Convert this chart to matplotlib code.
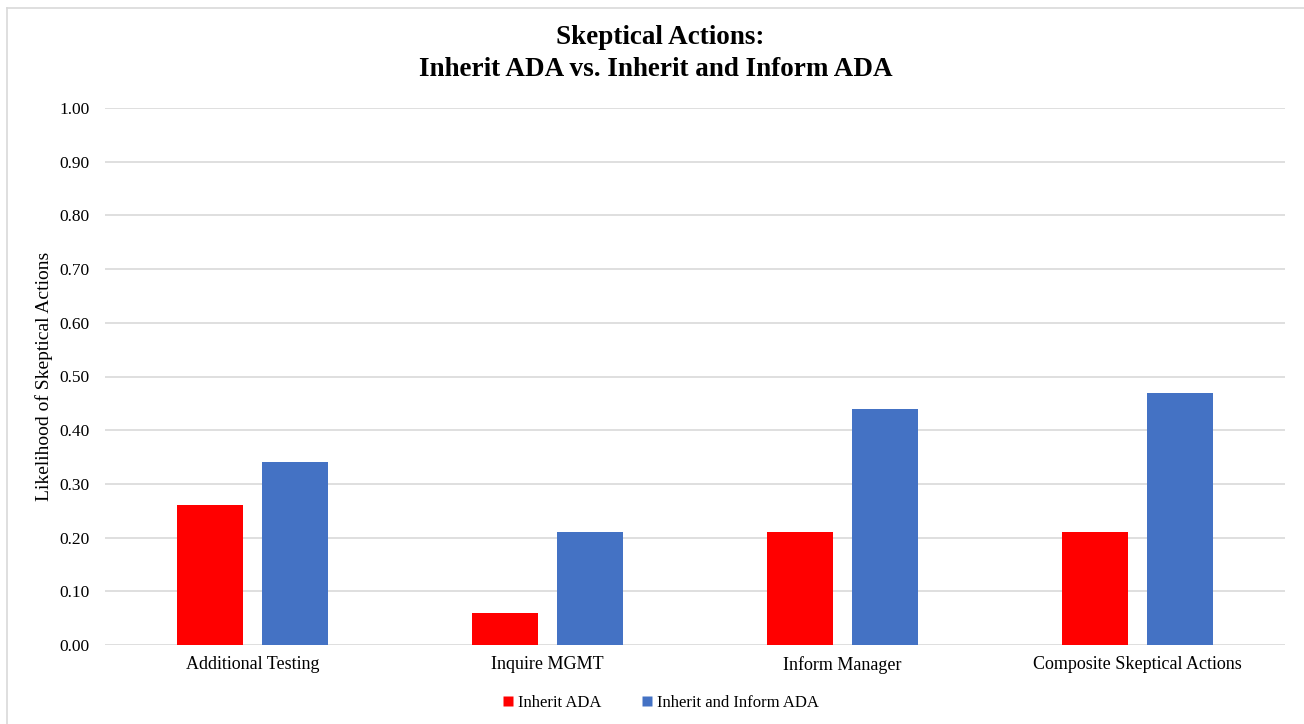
import matplotlib
matplotlib.use("Agg")
import matplotlib.pyplot as plt
import numpy as np
from matplotlib.lines import Line2D

categories = ["Additional Testing", "Inquire MGMT", "Inform Manager", "Composite Skeptical Actions"]
inherit_ada = [0.26, 0.06, 0.21, 0.21]
inherit_inform_ada = [0.34, 0.21, 0.44, 0.47]
series_names = ["Inherit ADA", "Inherit and Inform ADA"]
yticks = [0.0, 0.1, 0.2, 0.3, 0.4, 0.5, 0.6, 0.7, 0.8, 0.9, 1.0]

plt.rcParams['font.family'] = ['Liberation Serif', 'DejaVu Serif']

fig = plt.figure(figsize=(13.04, 7.24), dpi=100)
ax = fig.add_axes([105/1304, 1-645/724, (1285-105)/1304, (645-108)/724])

x = np.arange(len(categories))
w = 0.223
off = 0.143
ax.bar(x - off, inherit_ada, w, color="#FF0000", label=series_names[0], zorder=3)
ax.bar(x + off, inherit_inform_ada, w, color="#4472C4", label=series_names[1], zorder=3)

ax.set_xlim(-0.5, len(categories) - 0.5)
ax.set_ylim(0, 1.0)
ax.set_yticks(yticks)
ax.set_yticklabels([f"{t:.2f}" for t in yticks], fontsize=12.5)
ax.set_xticks(x)
ax.set_xticklabels(categories, fontsize=13)
ax.tick_params(length=0)
ax.tick_params(axis='y', pad=11)
ax.tick_params(axis='x', pad=8)
ax.grid(axis='y', color="#D9D9D9", linewidth=1.2, zorder=0)
for s in ax.spines.values():
    s.set_visible(False)

ax.set_ylabel("Likelihood of Skeptical Actions", fontsize=14, labelpad=5)

fig.text(660/1304, 1-38/724, "Skeptical Actions:", ha='center', va='center',
         fontsize=19.5, fontweight='bold')
fig.text(656/1304, 1-70/724, "Inherit ADA vs. Inherit and Inform ADA", ha='center', va='center',
         fontsize=19.5, fontweight='bold')

handles = [Line2D([0], [0], marker='s', color='none', markerfacecolor="#FF0000", markeredgecolor='none', markersize=7),
           Line2D([0], [0], marker='s', color='none', markerfacecolor="#4472C4", markeredgecolor='none', markersize=7)]
fig.legend(handles, series_names, loc='center', bbox_to_anchor=(660/1304, 1-703/724), ncol=2,
           frameon=False, fontsize=12, handlelength=0.8, handletextpad=0.2, columnspacing=2.3)

# figure border (top and left visible in reference)
fig.add_artist(Line2D([7/1304, 1], [1-8/724, 1-8/724], color="#D9D9D9", linewidth=1.2, transform=fig.transFigure))
fig.add_artist(Line2D([7/1304, 7/1304], [0, 1-8/724], color="#D9D9D9", linewidth=1.2, transform=fig.transFigure))

fig.savefig("out.png", dpi=100, facecolor="white")
